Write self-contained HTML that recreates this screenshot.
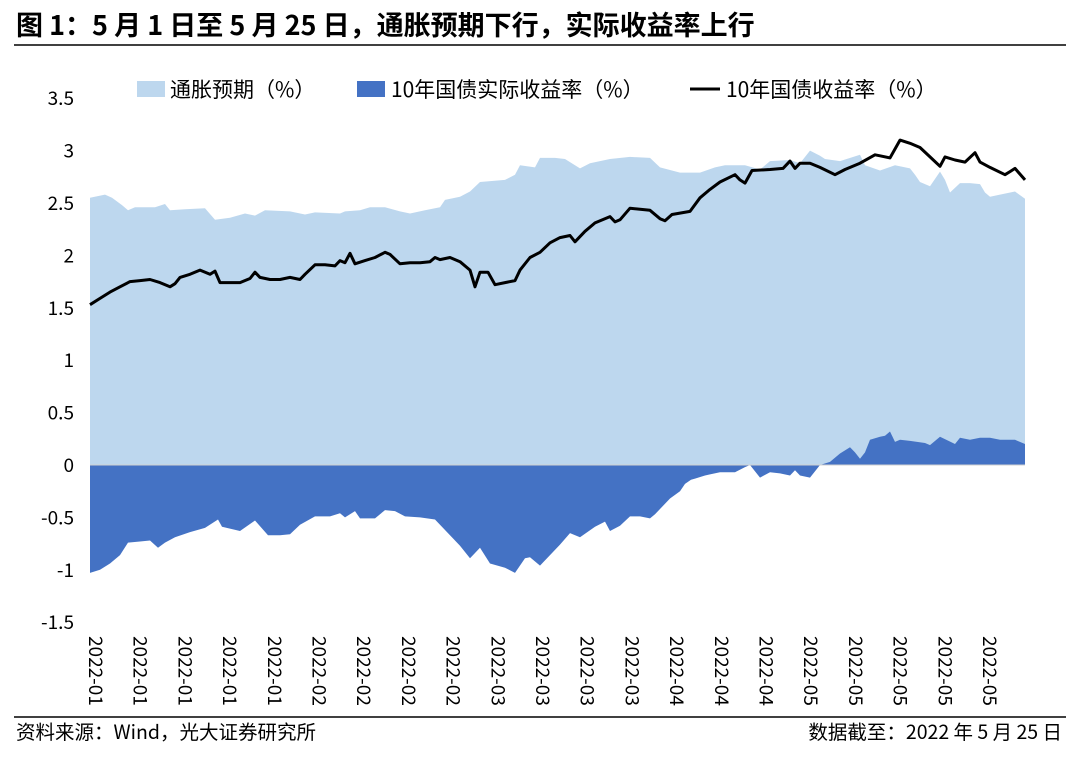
<!DOCTYPE html>
<html><head><meta charset="utf-8"><style>
body{margin:0;background:#fff;width:1080px;height:753px;overflow:hidden;}
svg text{font-family:"Noto Sans CJK SC","Liberation Sans",sans-serif;}
</style></head><body>
<svg id="c" width="1080" height="753" xmlns="http://www.w3.org/2000/svg">
<text x="16" y="35" font-size="27" font-weight="bold" fill="#000">图 1：5 月 1 日至 5 月 25 日，通胀预期下行，实际收益率上行</text>
<line x1="14" y1="45" x2="1066" y2="45" stroke="#000" stroke-width="1.5"/>
<g id="plot"></g>
<g font-size="21">
<rect x="137" y="81" width="28" height="16" fill="#bdd7ee"/>
<text x="170" y="97">通胀预期（%）</text>
<rect x="357" y="81" width="28" height="16" fill="#4472c4"/>
<text x="391" y="97">10年国债实际收益率（%）</text>
<line x1="690" y1="89" x2="720" y2="89" stroke="#000" stroke-width="3"/>
<text x="726" y="97">10年国债收益率（%）</text>
</g>
<line x1="14" y1="717" x2="1066" y2="717" stroke="#000" stroke-width="1.5"/>
<text x="16" y="739" font-size="19.5">资料来源：Wind，光大证券研究所</text>
<text x="1062" y="739" font-size="19.5" text-anchor="end">数据截至：2022 年 5 月 25 日</text>
</svg>
<script>
const yTicks=[3.5,3,2.5,2,1.5,1,0.5,0,-0.5,-1,-1.5];
const xTickLabels=["2022-01","2022-01","2022-01","2022-01","2022-01","2022-02","2022-02","2022-02","2022-02","2022-03","2022-03","2022-03","2022-03","2022-04","2022-04","2022-04","2022-05","2022-05","2022-05","2022-05","2022-05"];
const nomDays=[0,1,2,3,4,5,6,7,8,8.5,9,10,11,12,12.5,13,14,15,16,16.5,17,18,19,20,21,21.5,22.5,23.5,24.5,25,25.5,26,26.5,27.5,28.5,29.5,30,31,32,33,34,34.5,35,36,37,38,38.5,39,39.8,40.5,41.5,42.5,43,44,45,46,47,48,48.5,49.5,50.5,52,52.5,53,54,55,56,57,57.5,58.2,60,61,62,63,64.5,65,65.5,66.2,68,69.3,70,70.5,71,72,73,74.5,75.5,77,78.5,79,80,81,82,83,84,85,85.5,86.5,87.5,88.5,89,90,91.5,92,92.5,93.5];
const nomVals=[1.53,1.59,1.65,1.70,1.75,1.76,1.77,1.74,1.70,1.73,1.79,1.82,1.86,1.82,1.85,1.74,1.74,1.74,1.78,1.84,1.79,1.77,1.77,1.79,1.77,1.82,1.91,1.91,1.90,1.95,1.93,2.02,1.92,1.95,1.98,2.03,2.01,1.92,1.93,1.93,1.94,1.98,1.96,1.98,1.94,1.86,1.70,1.84,1.84,1.72,1.74,1.76,1.86,1.98,2.03,2.12,2.17,2.19,2.13,2.23,2.31,2.37,2.32,2.34,2.45,2.44,2.43,2.35,2.33,2.39,2.42,2.55,2.63,2.70,2.77,2.72,2.69,2.81,2.82,2.83,2.90,2.83,2.88,2.88,2.84,2.77,2.82,2.88,2.96,2.95,2.93,3.10,3.07,3.03,2.94,2.85,2.94,2.91,2.89,2.98,2.89,2.84,2.77,2.80,2.83,2.72,2.72];
const realDays=[0,1,2,3,3.8,5,6,6.8,7.5,8.5,10,11.5,12.8,13.2,15,16.5,17.8,19,20,21,22.5,24,25,25.5,26.5,27,28.5,29.5,30.5,31.5,33,34.5,35.5,37,38,39,40,41.5,42.5,43.5,44,45,46,47,48,49,50.5,51.5,52,53,54,55,56,56.5,57,58,59,59.5,60.1,60.5,61.5,62,63,64.5,65.5,66,67,68,69,70,70.5,71,72,73,74,75,76,76.5,77,77.5,78,79,79.5,80,80.5,81,82,83.5,84,85,86.5,87,88,89,89.5,90,91,92.5,93.5];
const realVals=[-1.03,-1.00,-0.94,-0.86,-0.74,-0.73,-0.72,-0.79,-0.74,-0.69,-0.64,-0.60,-0.52,-0.59,-0.63,-0.53,-0.67,-0.67,-0.66,-0.57,-0.49,-0.49,-0.46,-0.50,-0.44,-0.51,-0.51,-0.43,-0.44,-0.49,-0.50,-0.52,-0.62,-0.77,-0.89,-0.79,-0.94,-0.98,-1.03,-0.89,-0.88,-0.96,-0.86,-0.76,-0.65,-0.69,-0.59,-0.54,-0.63,-0.58,-0.49,-0.49,-0.51,-0.47,-0.42,-0.32,-0.25,-0.18,-0.14,-0.13,-0.10,-0.09,-0.07,-0.07,-0.02,0.0,-0.12,-0.07,-0.08,-0.10,-0.05,-0.10,-0.12,0.0,0.03,0.11,0.17,0.12,0.06,0.12,0.24,0.27,0.28,0.32,0.22,0.24,0.23,0.21,0.19,0.27,0.20,0.26,0.24,0.26,0.26,0.26,0.24,0.24,0.20];
const inflDays=[0,1.5,2.2,3.2,3.8,4.5,6.5,7.5,8,9.5,11.5,12.5,14,15.5,16.5,17.5,20,21.5,22.5,25,25.5,27,28,29.5,31,32,33.5,35,35.5,37,38,39,41.5,42.5,43,44.5,45,46.5,47.5,48.5,49,50,52,54,56,57,59,61,62.5,63.5,65.5,67,68,70,71,72,73,73.5,75,77,77.5,79,80.5,82,82.5,83,84,85,85.5,86,87,88,89,89.5,90,91,92.5,93.5];
const inflVals=[2.55,2.58,2.55,2.48,2.43,2.46,2.46,2.49,2.43,2.44,2.45,2.34,2.36,2.40,2.38,2.43,2.42,2.39,2.41,2.40,2.42,2.43,2.46,2.46,2.42,2.40,2.43,2.46,2.53,2.56,2.61,2.70,2.72,2.77,2.86,2.84,2.93,2.93,2.92,2.86,2.83,2.88,2.92,2.94,2.93,2.84,2.79,2.79,2.84,2.86,2.86,2.82,2.90,2.91,2.88,3.00,2.95,2.92,2.90,2.96,2.86,2.81,2.86,2.83,2.77,2.70,2.66,2.80,2.72,2.60,2.69,2.69,2.68,2.60,2.56,2.58,2.61,2.54];

const NS="http://www.w3.org/2000/svg";
const plot=document.getElementById('plot');
const X0=90,PX_PER_DAY=10,Y0=465,PX_PER_UNIT=104.8;
const xs=d=>X0+d*PX_PER_DAY;
const ys=v=>Y0-v*PX_PER_UNIT;
function mk(tag,attrs){const e=document.createElementNS(NS,tag);for(const k in attrs)e.setAttribute(k,attrs[k]);return e;}
function areaPath(days,vals){let d='M'+xs(days[0])+','+ys(0);days.forEach((dd,i)=>{d+=' L'+xs(dd).toFixed(1)+','+ys(vals[i]).toFixed(1);});d+=' L'+xs(days[days.length-1])+','+ys(0)+' Z';return d;}
const a1=mk('path',{d:areaPath(inflDays,inflVals),fill:'#bdd7ee'});


plot.appendChild(a1);
const a2=mk('path',{d:areaPath(realDays,realVals),fill:'#4472c4'});


plot.appendChild(a2);
const ax=mk('line',{x1:X0,y1:ys(0),x2:1025,y2:ys(0),stroke:'#d0d0d0','stroke-width':1});


plot.appendChild(ax);
let ld='';nomDays.forEach((d,i)=>{ld+=(i?' L':'M')+xs(d).toFixed(1)+','+ys(nomVals[i]).toFixed(1);});
const ln=mk('path',{d:ld,fill:'none',stroke:'#000','stroke-width':3,'stroke-linejoin':'round'});


plot.appendChild(ln);
yTicks.forEach(v=>{const t=mk('text',{x:74,y:ys(v)+7,'text-anchor':'end','font-size':19,fill:'#000'});t.textContent=String(v);


plot.appendChild(t);});
xTickLabels.forEach((s,i)=>{const x=96+44.7*i;const t=mk('text',{x:0,y:0,'font-size':19,fill:'#000',transform:'translate('+(x-7)+',636) rotate(90)'});t.textContent=s;


plot.appendChild(t);});
</script>
</body></html>
